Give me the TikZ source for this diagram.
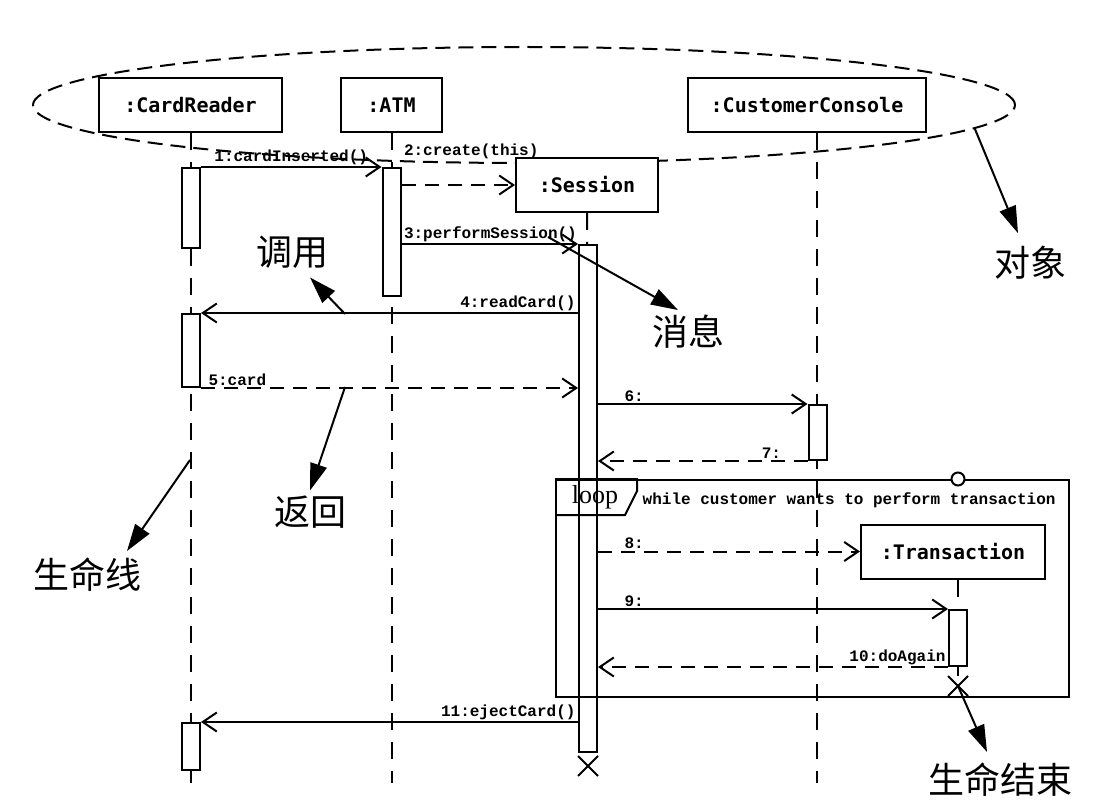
\documentclass[tikz,border=0pt]{standalone}
\usepackage{fontspec}
\setmainfont{Liberation Serif}
\newfontfamily\objfont{DejaVu Sans Mono}
\newfontfamily\msgfont{Liberation Mono}
\newfontfamily\cjk{Noto Sans CJK SC}
\usetikzlibrary{arrows.meta, shapes.geometric, shapes.misc, positioning}

\begin{document}
\begin{tikzpicture}[x=1pt, y=-1pt,
  obj/.style={draw, line width=2pt, minimum height=54pt, inner sep=0pt, font=\objfont\bfseries\fontsize{20}{24}\selectfont},
  bar/.style={draw, fill=white, line width=2pt, minimum width=18pt, inner sep=0pt},
  life/.style={line width=2pt, dash pattern=on 17pt off 12pt},
  call/.style={line width=2pt, -{Straight Barb[length=14pt,width=19pt]}},
  reply/.style={call, dash pattern=on 14pt off 9pt},
  lbl/.style={font=\msgfont\bfseries\fontsize{16}{18}\selectfont, inner sep=1.5pt},
  note/.style={font=\cjk\fontsize{36}{38}\selectfont, inner sep=3pt},
  tagarrow/.style={line width=2pt, -{Triangle[length=27pt,width=17pt]}},
  kill/.style={draw, cross out, line width=2pt, minimum size=18pt, inner sep=0pt}]

\fill[white] (0,0) rectangle (1108,810);
\useasboundingbox (0,0) rectangle (1108,810);

% objects
\node[ellipse, draw, line width=2pt, dash pattern=on 15pt off 8pt,
      minimum width=982pt, minimum height=116pt] (objs) at (524,105) {};
\node[obj, fill=white, minimum width=183pt] (cr) at (190.5,105) {:CardReader};
\node[obj, fill=white, minimum width=101pt] (atm) at (391.5,105) {:ATM};
\node[obj, fill=white, minimum width=238pt] (cc) at (807,105) {:CustomerConsole};
\node[obj, fill=white, minimum width=142pt] (sess) at (587,185) {:Session};
\node[obj, fill=white, minimum width=184pt] (tr) at (953,551.5) {:Transaction};

% end of life
\node[kill] (xSes) at (588,766) {};
\node[kill] (xTr) at (958,686) {};

% lifelines
\coordinate (bot) at (0,783);
\draw[life] (cr.south) -- (cr.south |- bot);
\draw[life] (atm.south) -- (atm.south |- bot);
\draw[life] ([xshift=10pt]cc.south) -- ([xshift=10pt]cc.south |- bot);
\draw[life] (sess.south) -- (xSes);
\draw[life] ([xshift=5pt]tr.south) -- (xTr);

% activations
\node[bar, minimum height=80pt] (crA) at (191,208) {};
\node[bar, minimum height=73pt] (crB) at (191,350.5) {};
\node[bar, minimum height=47pt] (crC) at (191,746.5) {};
\node[bar, minimum height=128pt] (atmA) at (391.5,232) {};
\node[bar, minimum height=507pt] (sesA) at (588,498.5) {};
\node[bar, minimum height=55pt] (ccA) at (817.5,432.5) {};
\node[bar, minimum height=56pt] (trA) at (958,638) {};

% loop fragment
\node[draw, line width=2pt, minimum width=513pt, minimum height=217pt,
      anchor=north west, inner sep=0pt] (frm) at (555,479) {};
\draw[line width=2pt] (frm.north west) -- ++(82,0) -- ++(0,12) -- ++(-12,24) -- ++(-70,0);
\node[font=\fontsize{26}{28}\selectfont, inner sep=0pt] (loopt) at (595,497) {loop};
\node[lbl, anchor=west] (guard) at (641,500) {while customer wants to perform transaction};
\node[circle, draw, fill=white, line width=2pt, minimum size=13pt, inner sep=0pt] (gate) at (958,479) {};

% messages
\draw[call] (crA.north east) -- node[lbl, above] {1:cardInserted()} (atmA.north west);
\draw[reply] (atmA.east |- sess.west) -- node[lbl, pos=0, above right, yshift=24pt] {2:create(this)} (sess.west);
\draw[call] (atmA.east |- sesA.north) -- node[lbl, pos=0, above right] {3:performSession()} (sesA.north west);
\draw[call] (sesA.west |- crB.north) -- node[lbl, pos=0, above left] {4:readCard()} (crB.north east);
\draw[reply] (crB.south east) -- node[lbl, pos=0, above right, xshift=5pt] {5:card} (sesA.west |- crB.south);
\draw[call] (sesA.east |- ccA.north) -- node[lbl, pos=0, above right, xshift=24pt] {6:} (ccA.north west);
\draw[reply] (ccA.south west) -- node[lbl, pos=0, above left, xshift=-24pt] {7:} (sesA.east |- ccA.south);
\draw[reply] (sesA.east |- tr.west) -- node[lbl, pos=0, above right, xshift=24pt] {8:} (tr.west);
\draw[call] (sesA.east |- trA.north) -- node[lbl, pos=0, above right, xshift=24pt] {9:} (trA.north west);
\draw[reply] (trA.south west) -- node[lbl, pos=0, above left] {10:doAgain} (sesA.east |- trA.south);
\draw[call] (sesA.west |- crC.north) -- node[lbl, pos=0, above left] {11:ejectCard()} (crC.north east);

% notes
\coordinate (pCall) at (345,314);
\coordinate (pMsg) at (548,237);
\coordinate (pRet) at (345,387);
\coordinate (pLife) at (190,460);
\node[note] (lblObj) at (1030,263) {对象};
\node[note] (lblCall) at (292,252) {调用};
\node[note] (lblMsg) at (688,332) {消息};
\node[note] (lblRet) at (310,512) {返回};
\node[note] (lblLife) at (87,575) {生命线};
\node[note] (lblEnd) at (1000,780) {生命结束};
\draw[tagarrow] (objs.-3) -- ([xshift=-12pt,yshift=10pt]lblObj.north);
\draw[tagarrow] (pCall) -- ([xshift=18pt,yshift=-6pt]lblCall.south);
\draw[tagarrow] (pMsg) -- ([xshift=-10pt,yshift=2pt]lblMsg.north);
\draw[tagarrow] (pRet) -- ([yshift=2pt]lblRet.north);
\draw[tagarrow] (pLife) -- ([xshift=40pt,yshift=4pt]lblLife.north);
\draw[tagarrow] (xTr.center) -- ([xshift=-13pt,yshift=8pt]lblEnd.north);
\end{tikzpicture}
\end{document}
